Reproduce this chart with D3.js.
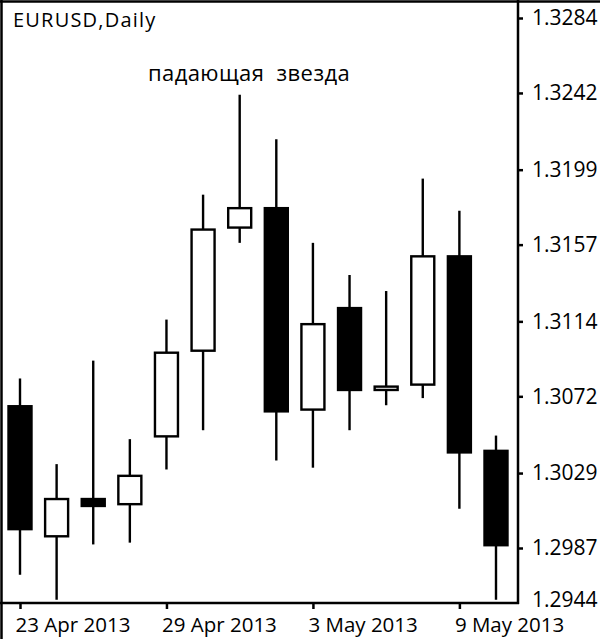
<!DOCTYPE html>
<html>
<head>
<meta charset="utf-8">
<script src="https://cdn.jsdelivr.net/npm/d3@7"></script>
<style>
  body { margin: 0; background: #fff; }
  svg { display: block; font-family: 'Open Sans', sans-serif; }
</style>
</head>
<body>
<svg id="chart"></svg>
<script>
// EURUSD daily bars, 23 Apr - 10 May 2013
const dates = ['23 Apr 2013', '24 Apr 2013', '25 Apr 2013', '26 Apr 2013', '29 Apr 2013', '30 Apr 2013', '1 May 2013',
    '2 May 2013', '3 May 2013', '6 May 2013', '7 May 2013', '8 May 2013', '9 May 2013', '10 May 2013']
const open = [1.3067, 1.2993, 1.3015, 1.3011, 1.3049, 1.3097, 1.3166, 1.3178, 1.3064, 1.3122, 1.3075, 1.3078, 1.3151, 1.3042]
const high = [1.3082, 1.3034, 1.3092, 1.3048, 1.3115, 1.3185, 1.3241, 1.3216, 1.3158, 1.3140, 1.3131, 1.3194, 1.3176, 1.3050]
const low = [1.2972, 1.2958, 1.2989, 1.2990, 1.3031, 1.3053, 1.3158, 1.3036, 1.3032, 1.3053, 1.3067, 1.3071, 1.3009, 1.2958]
const close = [1.2997, 1.3015, 1.3010, 1.3028, 1.3097, 1.3166, 1.3178, 1.3063, 1.3113, 1.3075, 1.3078, 1.3151, 1.3040, 1.2988]

const priceTicks = [1.3284, 1.3242, 1.3199, 1.3157, 1.3114, 1.3072, 1.3029, 1.2987]
const bottomPriceLabel = ['1.2944']
const dateTicks = ['23 Apr 2013', '29 Apr 2013', '3 May 2013', '9 May 2013']
const title = 'EURUSD,Daily'
const note = 'падающая  звезда'

const width = 600
const height = 639
const plotRight = 518
const plotBottom = 603

const svg = d3.select('#chart')
    .attr('width', width)
    .attr('height', height)

const x = d3.scalePoint() // свечи равномерно по дням
    .domain(dates)
    .range([20, 496])

const y = d3.scaleLinear()
    .domain([1.2987, 1.3284])
    .range([548, 18])

const bars = dates.map((d, i) => ({ date: d, o: open[i], h: high[i], l: low[i], c: close[i] }))

// frame
svg.append('line').attr('x1', 0).attr('x2', width).attr('y1', 1.5).attr('y2', 1.5)
    .attr('stroke', '#000').attr('stroke-width', 2.5)
svg.append('line').attr('x1', 1.5).attr('x2', 1.5).attr('y1', 0).attr('y2', height)
    .attr('stroke', '#000').attr('stroke-width', 2.5)
svg.append('line').attr('x1', plotRight).attr('x2', plotRight).attr('y1', 0).attr('y2', plotBottom + 1)
    .attr('stroke', '#000').attr('stroke-width', 2.5)
svg.append('line').attr('x1', 0).attr('x2', plotRight + 1).attr('y1', plotBottom).attr('y2', plotBottom)
    .attr('stroke', '#000').attr('stroke-width', 2.5)

// candles
const bodyW = 23
const candle = svg.append('g').selectAll('g')
    .data(bars)
    .enter()
    .append('g')

candle.append('line')
    .attr('x1', d => x(d.date))
    .attr('x2', d => x(d.date))
    .attr('y1', d => y(d.h))
    .attr('y2', d => y(d.l))
    .attr('stroke', '#000')
    .attr('stroke-width', 2.4)

candle.append('rect')
    .attr('x', d => x(d.date) - bodyW / 2)
    .attr('y', d => y(Math.max(d.o, d.c)) + 1)
    .attr('width', bodyW)
    .attr('height', d => Math.max(y(Math.min(d.o, d.c)) - y(Math.max(d.o, d.c)) - 2, 2))
    .attr('fill', d => d.c < d.o ? '#000' : '#fff')
    .attr('stroke', '#000')
    .attr('stroke-width', 2.4)

// right price axis
const yAxis = svg.append('g')
    .attr('transform', `translate(${plotRight},0)`)
    .call(d3.axisRight(y).tickValues(priceTicks).tickSize(5).tickPadding(9).tickFormat(d3.format('.4f')))
yAxis.select('.domain').remove()
yAxis.selectAll('line').attr('stroke-width', 2.5)
yAxis.selectAll('text').attr('font-size', 21).attr('font-family', "'Open Sans', sans-serif").attr('fill', '#000')

svg.append('g').selectAll('text')
    .data(bottomPriceLabel)
    .enter()
    .append('text')
    .attr('x', plotRight + 14)
    .attr('y', plotBottom + 4)
    .attr('font-size', 21)
    .attr('fill', '#000')
    .text(d => d)

// bottom date axis
const xAxis = svg.append('g')
    .attr('transform', `translate(0,${plotBottom})`)
    .call(d3.axisBottom(x).tickValues(dateTicks).tickSize(6).tickPadding(23))
xAxis.select('.domain').remove()
xAxis.selectAll('line').attr('stroke-width', 2.5)
xAxis.selectAll('text')
    .attr('font-size', 20.5)
    .attr('font-family', "'Open Sans', sans-serif")
    .attr('fill', '#000')
    .attr('text-anchor', 'start')
    .attr('dx', -5)
    .attr('dy', 0)

svg.append('text')
    .attr('x', 13)
    .attr('y', 27)
    .attr('font-size', 20)
    .attr('letter-spacing', 1.2)
    .text(title)

svg.append('text')
    .attr('x', 148)
    .attr('y', 81)
    .attr('font-size', 22)
    .attr('letter-spacing', 0.4)
    .style('white-space', 'pre')
    .text(note)
</script>
</body>
</html>
